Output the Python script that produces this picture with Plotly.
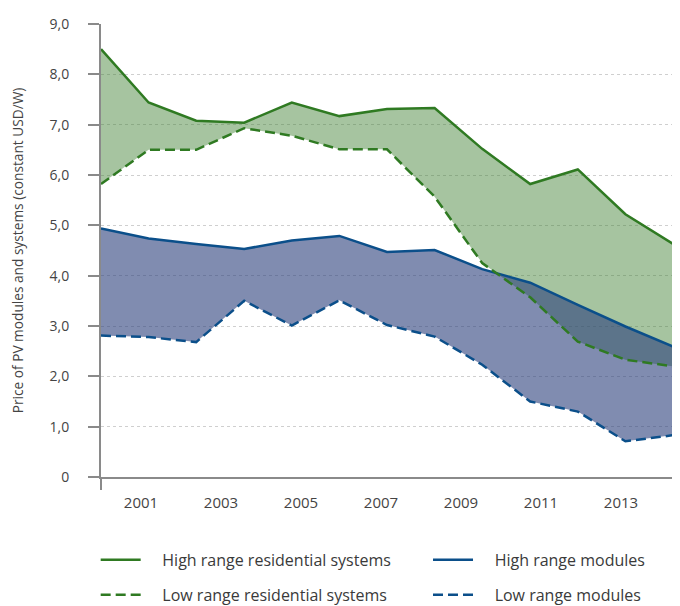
import plotly.graph_objects as go

# x positions of the 13 observations (in years, as drawn on the original axis)
years = [2000.0, 2001.19, 2002.38, 2003.58, 2004.77, 2005.96, 2007.15,
         2008.34, 2009.53, 2010.73, 2011.92, 2013.11, 2014.3]

high_res = [8.50, 7.44, 7.08, 7.04, 7.44, 7.17, 7.31, 7.33, 6.52, 5.82, 6.11, 5.22, 4.63]
low_res = [5.82, 6.50, 6.50, 6.93, 6.78, 6.51, 6.51, 5.57, 4.25, 3.57, 2.69, 2.33, 2.20]
high_mod = [4.94, 4.74, 4.63, 4.53, 4.70, 4.79, 4.47, 4.51, 4.13, 3.86, 3.42, 2.99, 2.59]
low_mod = [2.81, 2.78, 2.68, 3.50, 3.01, 3.51, 3.02, 2.79, 2.23, 1.50, 1.30, 0.71, 0.83]

x_ticks = [2001, 2003, 2005, 2007, 2009, 2011, 2013]
y_ticks = [0, 1, 2, 3, 4, 5, 6, 7, 8, 9]
y_ticktext = ["0", "1,0", "2,0", "3,0", "4,0", "5,0", "6,0", "7,0", "8,0", "9,0"]

GREEN = "#2f7a22"
BLUE = "#0b4f8a"
GREEN_FILL = "rgba(58,125,44,0.45)"
BLUE_FILL = "rgba(43,63,123,0.6)"
DASH = "10px,5px"

# non-breaking spaces to open the gap between legend symbol and label
GAP = "\u00a0" * 4

fig = go.Figure()

# shaded bands (no lines, no legend)
fig.add_trace(go.Scatter(x=years, y=low_res, mode="lines", line=dict(width=0),
                         showlegend=False, hoverinfo="skip"))
fig.add_trace(go.Scatter(x=years, y=high_res, mode="lines", line=dict(width=0),
                         fill="tonexty", fillcolor=GREEN_FILL,
                         showlegend=False, hoverinfo="skip"))
fig.add_trace(go.Scatter(x=years, y=low_mod, mode="lines", line=dict(width=0),
                         showlegend=False, hoverinfo="skip"))
fig.add_trace(go.Scatter(x=years, y=high_mod, mode="lines", line=dict(width=0),
                         fill="tonexty", fillcolor=BLUE_FILL,
                         showlegend=False, hoverinfo="skip"))

# lines on top, one legend box per legend cell
fig.add_trace(go.Scatter(x=years, y=high_res, mode="lines",
                         name=GAP + "High range residential systems",
                         line=dict(color=GREEN, width=2.5), legend="legend"))
fig.add_trace(go.Scatter(x=years, y=high_mod, mode="lines",
                         name=GAP + "High range modules",
                         line=dict(color=BLUE, width=2.5), legend="legend2"))
fig.add_trace(go.Scatter(x=years, y=low_res, mode="lines",
                         name=GAP + "Low range residential systems",
                         line=dict(color=GREEN, width=2.5, dash=DASH), legend="legend3"))
fig.add_trace(go.Scatter(x=years, y=low_mod, mode="lines",
                         name=GAP + "Low range modules",
                         line=dict(color=BLUE, width=2.5, dash=DASH), legend="legend4"))

legend_common = dict(
    orientation="h",
    xanchor="left",
    yanchor="middle",
    traceorder="normal",
    itemwidth=40,
    font=dict(size=16, color="#3a3a3a"),
    bgcolor="rgba(0,0,0,0)",
)

# the page body has an 8px margin, so the figure is 8px smaller than the window
fig.update_layout(
    width=672,
    height=598,
    paper_bgcolor="white",
    plot_bgcolor="white",
    font=dict(family="Open Sans, sans-serif", color="#444444"),
    margin=dict(l=93, r=7, t=16, b=129, autoexpand=False),
    xaxis=dict(
        range=[2000, 2014.3],
        tickvals=x_ticks,
        ticks="",
        automargin=False,
        showgrid=False,
        showline=True,
        linecolor="#8a8a8a",
        linewidth=1.5,
        zeroline=False,
        tickfont=dict(size=15, color="#444444"),
        ticklabelstandoff=11,
        minor=dict(tickvals=[2000], ticks="outside", ticklen=11,
                   tickcolor="#8a8a8a", tickwidth=1.5, showgrid=False),
    ),
    yaxis=dict(
        range=[0, 9],
        tickvals=y_ticks,
        ticktext=y_ticktext,
        ticks="outside",
        automargin=False,
        ticklen=11,
        tickcolor="#8a8a8a",
        tickwidth=1.5,
        showline=True,
        linecolor="#8a8a8a",
        linewidth=2,
        showgrid=True,
        gridcolor="#cfcfcf",
        griddash="dot",
        gridwidth=1,
        zeroline=False,
        tickfont=dict(size=14, color="#444444"),
        ticklabelstandoff=16,
        title=dict(text="Price of PV modules and systems (constant USD/W)",
                   font=dict(size=13.7, color="#444444"), standoff=24),
    ),
    legend=dict(legend_common, x=-0.0093, y=-0.183),
    legend2=dict(legend_common, x=0.5717, y=-0.183),
    legend3=dict(legend_common, x=-0.0093, y=-0.26),
    legend4=dict(legend_common, x=0.5717, y=-0.26),
    showlegend=True,
)

fig.write_html("out.html")
